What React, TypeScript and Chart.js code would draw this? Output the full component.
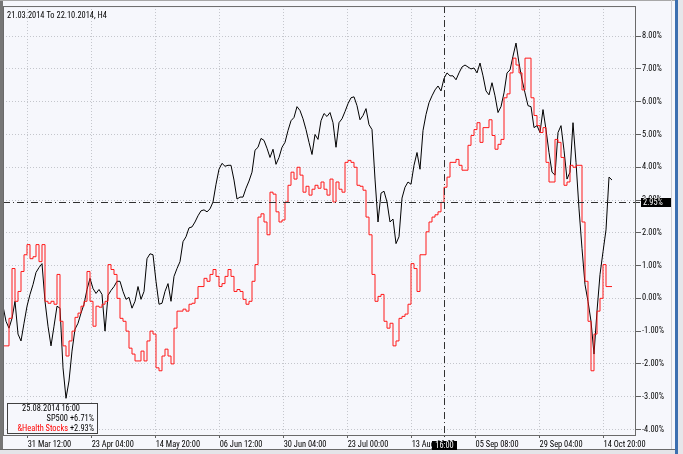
import React, { useEffect, useRef } from "react";
import { Chart, registerables } from "chart.js";

Chart.register(...registerables);

const FONT = "'Roboto Condensed', 'DejaVu Sans Condensed', 'Liberation Sans', sans-serif";
const FSIZE = 8.4;
const BG = "#f6f7fc";
const GRID = "#c4c6cc";

const title = "21.03.2014 To 22.10.2014, H4";
const seriesNames = ["SP500", "&Health Stocks"];
const xTickLabels = [
  "31 Mar 12:00", "23 Apr 04:00", "14 May 20:00", "06 Jun 12:00", "30 Jun 04:00",
  "23 Jul 00:00", "13 Aug 16:00", "05 Sep 08:00", "29 Sep 04:00", "14 Oct 20:00",
];
const firstTickBar = 8.23;
const tickEveryBars = 21.33;
const xMax = 211;
const yTicks = [-4, -3, -2, -1, 0, 1, 2, 3, 4, 5, 6, 7, 8];
const yMin = -4.17;
const yMax = 8.92;
const crossIdx = 147;
const crossLevel = 2.95;
const crossTime = "25.08.2014 16:00";
const crossTimeShort = "16:00";

const sp500 = [
  -0.24, -0.70, -0.91, -0.61, -0.09, -1.09, -1.30, -0.76, -0.24, 0.12,
  0.42, 0.79, 0.94, 1.06, -0.09, -0.85, -1.45, -0.85, -0.24, -0.30,
  -2.12, -3.05, -2.52, -1.61, -0.94, -0.76, -0.45, -0.18, 0.27, 0.61,
  0.30, 0.15, 0.27, 0.12, -1.00, 0.09, 0.24, 0.36, 0.52, 0.52,
  0.21, -0.03, 0.03, -0.30, -0.09, 0.36, -0.03, 0.21, 1.21, 1.36,
  1.33, 0.52, -0.18, -0.15, 0.21, 0.45, -0.09, 0.67, 0.91, 1.12,
  1.73, 1.88, 2.15, 2.18, 2.33, 2.52, 2.67, 2.70, 2.64, 2.73,
  2.94, 3.48, 3.94, 4.12, 4.03, 4.06, 4.06, 3.61, 3.03, 3.09,
  3.09, 3.36, 3.58, 3.85, 4.52, 4.61, 4.88, 4.82, 4.58, 4.30,
  4.55, 4.09, 4.30, 4.61, 4.76, 5.12, 5.42, 5.52, 5.85, 5.73,
  5.48, 5.15, 4.76, 4.39, 5.00, 4.85, 5.42, 5.64, 5.55, 5.67,
  5.36, 4.61, 5.36, 5.48, 5.70, 5.94, 6.12, 6.15, 5.88, 5.45,
  5.58, 5.79, 5.30, 5.15, 3.64, 2.33, 3.21, 3.27, 2.94, 2.33,
  2.42, 1.67, 1.88, 3.06, 3.39, 3.55, 3.48, 4.06, 4.45, 3.94,
  5.12, 5.61, 5.97, 6.18, 6.36, 6.48, 6.33, 6.71, 6.88, 6.79,
  6.79, 6.67, 6.88, 7.06, 7.12, 7.06, 7.00, 7.03, 6.88, 7.18,
  6.79, 6.33, 6.21, 6.58, 6.18, 5.67, 5.85, 6.27, 6.88, 6.97,
  7.39, 7.79, 7.18, 6.67, 6.27, 5.88, 5.85, 5.21, 5.27, 5.06,
  5.76, 5.15, 4.45, 3.85, 3.76, 5.06, 5.27, 4.52, 3.64, 3.85,
  5.36, 4.15, 2.73, 1.52, 0.42, -0.09, -0.70, -1.70, -0.39, 0.73,
  1.42, 2.09, 3.70, 3.61,
];

const health = [
  -0.91, -1.45, -1.45, -0.61, 0.91, -0.09, 0.21, 0.82, 1.33, 1.64,
  1.21, 1.27, 1.64, 1.12, 1.64, -0.09, -0.15, -0.09, -0.18, 0.73,
  -0.70, -1.45, -1.76, -1.30, -1.00, -0.58, -0.45, -0.24, -0.09, 0.82,
  -0.09, -0.85, -0.24, -0.27, -0.18, -0.09, 1.03, 0.88, 0.73, 0.00,
  -0.61, -0.70, -1.00, -1.52, -1.70, -1.91, -1.91, -1.61, -1.91, -1.30,
  -1.00, -1.09, -2.12, -2.21, -1.76, -1.55, -1.76, -2.00, -0.91, -0.39,
  -0.39, -0.33, -0.39, -0.18, -0.15, 0.00, 0.36, 0.36, 0.61, 0.52,
  0.73, 0.88, 0.67, 0.36, 0.45, 0.67, 0.88, 0.67, 0.21, 0.27,
  0.21, -0.03, -0.18, -0.09, 0.52, 1.03, 2.48, 2.58, 2.33, 1.94,
  3.24, 3.18, 2.64, 2.33, 2.39, 2.94, 3.45, 3.85, 3.64, 4.00,
  3.76, 3.24, 3.42, 3.15, 3.33, 3.45, 3.36, 3.55, 3.33, 3.15,
  3.64, 2.94, 3.55, 3.33, 3.24, 4.15, 4.21, 4.15, 4.00, 3.45,
  3.42, 3.30, 2.48, 1.94, 0.73, -0.09, 0.06, 0.12, -0.70, -0.91,
  -0.76, -1.45, -1.30, -0.61, -0.55, -0.48, -0.18, 1.06, 0.91, 0.21,
  1.33, 1.33, 2.03, 2.33, 2.48, 2.55, 2.64, 2.93, 3.39, 3.70,
  4.15, 4.15, 4.24, 4.06, 3.91, 3.91, 4.67, 4.97, 5.15, 5.36,
  4.76, 5.21, 5.21, 5.45, 4.97, 4.55, 4.70, 4.85, 6.12, 6.24,
  6.88, 7.33, 7.12, 6.88, 6.36, 7.33, 7.33, 6.12, 5.58, 5.27,
  5.06, 5.21, 4.15, 3.55, 3.55, 4.85, 4.76, 4.30, 3.45, 3.55,
  4.06, 4.00, 4.06, 4.06, 2.33, 0.52, -0.70, -2.21, -1.09, -0.39,
  0.00, 1.03, 0.36, 0.36,
];

const fmtPct = (v: number) => (v >= 0 ? "+" : "") + v.toFixed(2) + "%";

const framePlugin = {
  id: "frame",
  beforeDraw(chart: any) {
    const { ctx, width, height } = chart;
    ctx.save();
    ctx.fillStyle = BG;
    ctx.fillRect(0, 0, width, height);
    ctx.restore();
  },
  afterDatasetsDraw(chart: any) {
    const { ctx, chartArea: a, scales } = chart;
    const cx = Math.round(scales.x.getPixelForValue(crossIdx)) + 0.5;
    const cy = Math.round(scales.y.getPixelForValue(crossLevel)) + 0.5;
    ctx.save();
    ctx.strokeStyle = "#303030";
    ctx.lineWidth = 1;
    ctx.setLineDash([7, 3, 1, 3]);
    ctx.beginPath();
    ctx.moveTo(a.left, cy);
    ctx.lineTo(a.right + 5, cy);
    ctx.moveTo(cx, a.top);
    ctx.lineTo(cx, a.bottom + 5);
    ctx.stroke();
    ctx.restore();
  },
  afterDraw(chart: any) {
    const { ctx, chartArea: a, scales, width, height } = chart;
    const cx = Math.round(scales.x.getPixelForValue(crossIdx));
    const cy = Math.round(scales.y.getPixelForValue(crossLevel));
    ctx.save();
    ctx.strokeStyle = "#6a6a6a";
    ctx.lineWidth = 1;
    ctx.strokeRect(a.left + 0.5, a.top + 0.5, a.right - a.left - 1, a.bottom - a.top);
    ctx.fillStyle = "#767676";
    ctx.fillRect(0, 0, 3, height);
    ctx.fillStyle = "#a8a8a8";
    ctx.fillRect(0, 0, width - 8, 1);
    ctx.fillStyle = "#6a6a6a";
    ctx.fillRect(0, height - 5, width - 8, 1);
    ctx.fillStyle = "#e4e4e8";
    ctx.fillRect(0, height - 4, width - 8, 4);
    ctx.fillStyle = "#d0d0d4";
    ctx.fillRect(width - 12, 0, 1, height - 5);
    ctx.fillStyle = "#3c6fb0";
    ctx.fillRect(width - 8, 0, 3, height);
    ctx.fillStyle = "#e6e6ea";
    ctx.fillRect(width - 5, 0, 5, height);

    ctx.font = FSIZE + "px " + FONT;
    ctx.textBaseline = "middle";
    ctx.fillStyle = "#000";
    ctx.textAlign = "left";
    ctx.fillText(title, a.left + 4, a.top + 10);

    ctx.fillStyle = "#000";
    ctx.fillRect(a.right + 5, cy - 4, 30, 9);
    ctx.fillStyle = "#fff";
    ctx.textAlign = "left";
    ctx.fillText(crossLevel.toFixed(2) + "%", a.right + 7, cy + 0.5);

    ctx.fillStyle = "#000";
    ctx.fillRect(cx - 12, a.bottom + 6, 25, 9);
    ctx.fillStyle = "#fff";
    ctx.textAlign = "center";
    ctx.fillText(crossTimeShort, cx + 0.5, a.bottom + 10.5);

    const bx = a.left + 4, by = a.bottom - 32, bw = 90, bh = 30;
    ctx.fillStyle = BG;
    ctx.fillRect(bx, by, bw, bh);
    ctx.strokeStyle = "#404040";
    ctx.strokeRect(bx + 0.5, by + 0.5, bw, bh);
    ctx.fillStyle = "#000";
    ctx.textAlign = "center";
    ctx.fillText(crossTime, bx + 44, by + 6);
    ctx.textAlign = "right";
    const rx = bx + bw - 3;
    ctx.fillText(seriesNames[0] + " " + fmtPct(sp500[crossIdx]), rx, by + 16);
    const v2 = " " + fmtPct(health[crossIdx]);
    ctx.fillText(v2, rx, by + 25.5);
    const w2 = ctx.measureText(v2).width;
    ctx.fillStyle = "#ff0000";
    ctx.fillText(seriesNames[1], rx - w2, by + 25.5);
    ctx.restore();
  },
};

export default function App() {
  const ref = useRef<HTMLCanvasElement>(null);
  useEffect(() => {
    document.body.style.margin = "0";
    document.body.style.overflow = "hidden";
    const canvas = ref.current!;
    const chart = new Chart(canvas, {
      type: "line",
      data: {
        datasets: [
          {
            label: seriesNames[1],
            data: health.map((v, i) => ({ x: i, y: v })),
            borderColor: "#ff1a1a",
            borderWidth: 1,
            stepped: "after",
            pointRadius: 0,
            order: 0,
          },
          {
            label: seriesNames[0],
            data: sp500.map((v, i) => ({ x: i, y: v })),
            borderColor: "#000000",
            borderWidth: 1,
            pointRadius: 0,
            tension: 0,
            order: 1,
          },
        ],
      },
      options: {
        animation: false,
        responsive: false,
        devicePixelRatio: 1,
        events: [],
        layout: { padding: { left: 3, top: 3, right: 0, bottom: 0 } },
        plugins: { legend: { display: false }, tooltip: { enabled: false } },
        scales: {
          x: {
            type: "linear",
            min: 0,
            max: xMax,
            afterBuildTicks: (s: any) => {
              s.ticks = xTickLabels.map((_, j) => ({ value: firstTickBar + j * tickEveryBars }));
            },
            afterFit: (s: any) => {
              s.height = 19;
            },
            ticks: {
              autoSkip: false,
              maxRotation: 0,
              minRotation: 0,
              align: "start",
              padding: 2,
              color: "#000",
              font: { family: FONT, size: FSIZE },
              callback: (_v: any, i: number) => xTickLabels[i],
            },
            grid: { color: GRID, tickColor: "#606060", tickLength: 3, tickBorderDash: [] },
            border: { display: false, dash: [1, 2] },
          },
          y: {
            position: "right",
            min: yMin,
            max: yMax,
            afterBuildTicks: (s: any) => {
              s.ticks = yTicks.map((v) => ({ value: v }));
            },
            afterFit: (s: any) => {
              s.width = 47;
            },
            ticks: {
              padding: 1,
              color: "#000",
              font: { family: FONT, size: FSIZE },
              callback: (v: any) => Number(v).toFixed(2) + "%",
            },
            grid: { color: GRID, tickColor: "#606060", tickLength: 5, tickBorderDash: [] },
            border: { display: false, dash: [1, 2] },
          },
        },
      },
      plugins: [framePlugin],
    } as any);
    return () => chart.destroy();
  }, []);
  return <canvas ref={ref} width={683} height={454} style={{ display: "block" }} />;
}
